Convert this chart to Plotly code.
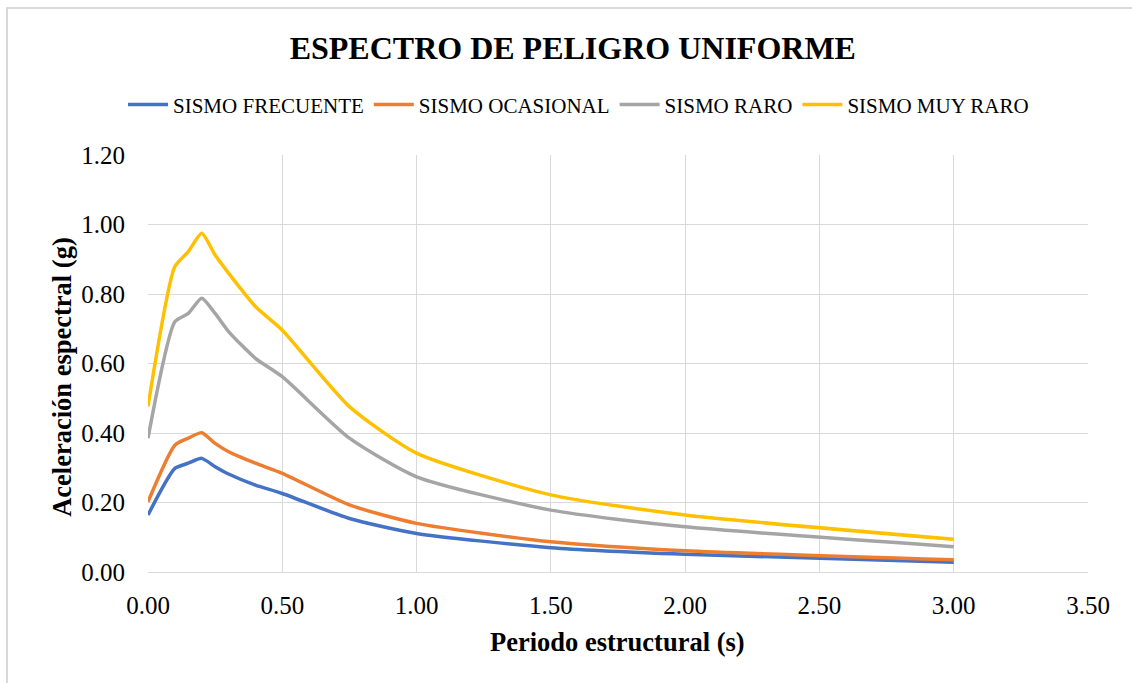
import plotly.graph_objects as go

# Periodo estructural (s)
periodo = [0, 0.1, 0.15, 0.2, 0.25, 0.3, 0.4, 0.5, 0.75, 1.0, 1.5, 2.0, 3.0]

# Aceleración espectral (g) por nivel de sismo
sismo_frecuente = [0.164, 0.298, 0.313, 0.327, 0.303, 0.282, 0.250, 0.226, 0.154, 0.111, 0.070, 0.051, 0.028]
sismo_ocasional = [0.202, 0.365, 0.385, 0.401, 0.370, 0.346, 0.313, 0.284, 0.193, 0.140, 0.087, 0.061, 0.035]
sismo_raro = [0.385, 0.720, 0.744, 0.788, 0.744, 0.692, 0.615, 0.562, 0.385, 0.274, 0.178, 0.130, 0.073]
sismo_muy_raro = [0.476, 0.879, 0.922, 0.975, 0.912, 0.860, 0.764, 0.696, 0.476, 0.342, 0.222, 0.164, 0.094]

x_ticks = [0, 0.5, 1.0, 1.5, 2.0, 2.5, 3.0, 3.5]
y_ticks = [0, 0.2, 0.4, 0.6, 0.8, 1.0, 1.2]

FONT = "Liberation Serif, Times New Roman, serif"
GRID = "#D9D9D9"

series = [
    ("SISMO FRECUENTE", sismo_frecuente, "#4472C4"),
    ("SISMO OCASIONAL", sismo_ocasional, "#ED7D31"),
    ("SISMO RARO", sismo_raro, "#A5A5A5"),
    ("SISMO MUY RARO", sismo_muy_raro, "#FFC000"),
]

fig = go.Figure()
for name, vals, color in series:
    fig.add_trace(go.Scatter(
        x=periodo, y=vals, name=name, mode="lines",
        line=dict(color=color, width=3.5, shape="spline", smoothing=0.6),
    ))

fig.update_layout(
    width=1132, height=683,
    margin=dict(l=148, r=44, t=155, b=111),
    paper_bgcolor="white", plot_bgcolor="white",
    font=dict(family=FONT, color="black", size=25),
    title=dict(
        text="<b>ESPECTRO DE PELIGRO UNIFORME</b>",
        x=0.506, xanchor="center", y=1 - 48 / 683, yanchor="middle",
        font=dict(family=FONT, size=32, color="black"),
    ),
    legend=dict(
        orientation="h", x=0.458, xanchor="center", y=1.12, yanchor="middle",
        font=dict(family=FONT, size=21, color="black"),
        itemwidth=40, tracegroupgap=0, bgcolor="rgba(0,0,0,0)",
    ),
    showlegend=True,
)

fig.update_xaxes(
    range=[0, 3.5], tickvals=x_ticks, tickformat=".2f",
    showgrid=True, gridcolor=GRID, gridwidth=1.3,
    zeroline=False, showline=True, linecolor=GRID, linewidth=1.3,
    ticks="", ticklabelstandoff=11,
    tickfont=dict(family=FONT, size=25, color="black"),
)
fig.update_yaxes(
    range=[0, 1.2], tickvals=y_ticks, tickformat=".2f",
    showgrid=True, gridcolor=GRID, gridwidth=1.3,
    zeroline=False, showline=False,
    ticks="", ticklabelstandoff=22,
    tickfont=dict(family=FONT, size=25, color="black"),
)

# Axis titles
fig.add_annotation(
    text="<b>Periodo estructural (s)</b>", xref="paper", yref="paper",
    x=0.499, y=-0.168, xanchor="center", yanchor="middle", showarrow=False,
    font=dict(family=FONT, size=26.5, color="black"),
)
fig.add_annotation(
    text="<b>Aceleración espectral (g)</b>", xref="paper", yref="paper",
    x=-0.0915, y=0.468, xanchor="center", yanchor="middle", showarrow=False,
    textangle=-90, font=dict(family=FONT, size=26.5, color="black"),
)

# Chart-area border
fig.add_shape(
    type="rect", xref="paper", yref="paper",
    x0=-0.15, x1=1.06, y0=-0.29, y1=1.3525,
    line=dict(color="#D9D9D9", width=2), fillcolor="rgba(0,0,0,0)", layer="below",
)

fig.write_html("out.html")
